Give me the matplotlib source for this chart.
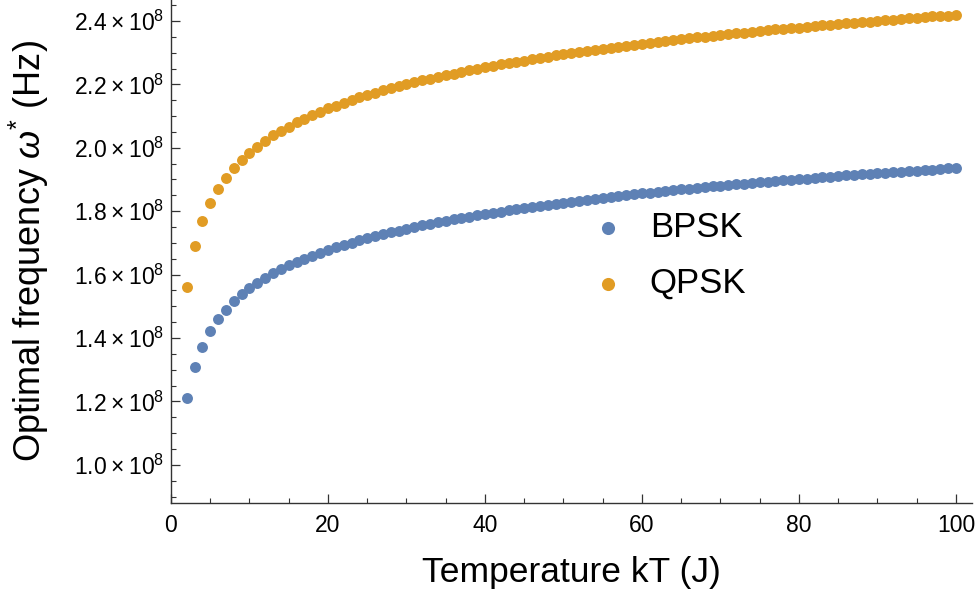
import numpy as np
import matplotlib
matplotlib.use("Agg")
import matplotlib.pyplot as plt
from matplotlib.ticker import MultipleLocator, FuncFormatter

# temperature kT (J)
kT = list(range(2, 101))

# optimal frequency, in units of 1e8 Hz
bpsk = [1.210, 1.310, 1.373, 1.422, 1.460, 1.490, 1.516, 1.538, 1.557, 1.575,
        1.590, 1.604, 1.617, 1.629, 1.640, 1.650, 1.660, 1.669, 1.678, 1.686,
        1.694, 1.701, 1.708, 1.715, 1.722, 1.728, 1.734, 1.739, 1.745, 1.750,
        1.755, 1.761, 1.765, 1.770, 1.775, 1.779, 1.783, 1.787, 1.791, 1.795,
        1.799, 1.803, 1.807, 1.810, 1.814, 1.817, 1.821, 1.824, 1.827, 1.830,
        1.833, 1.836, 1.839, 1.842, 1.845, 1.848, 1.851, 1.853, 1.856, 1.859,
        1.861, 1.864, 1.866, 1.869, 1.871, 1.873, 1.876, 1.878, 1.880, 1.883,
        1.885, 1.887, 1.889, 1.891, 1.893, 1.895, 1.897, 1.899, 1.901, 1.903,
        1.905, 1.907, 1.909, 1.911, 1.913, 1.914, 1.916, 1.918, 1.920, 1.922,
        1.923, 1.925, 1.927, 1.928, 1.930, 1.931, 1.933, 1.935, 1.936]
qpsk = [1.560, 1.689, 1.769, 1.826, 1.871, 1.906, 1.936, 1.962, 1.984, 2.004,
        2.022, 2.039, 2.054, 2.067, 2.080, 2.092, 2.103, 2.114, 2.124, 2.133,
        2.142, 2.150, 2.159, 2.166, 2.174, 2.181, 2.188, 2.194, 2.201, 2.207,
        2.213, 2.218, 2.224, 2.229, 2.234, 2.239, 2.244, 2.249, 2.254, 2.258,
        2.263, 2.267, 2.271, 2.275, 2.279, 2.283, 2.287, 2.291, 2.295, 2.298,
        2.302, 2.305, 2.309, 2.312, 2.315, 2.318, 2.321, 2.325, 2.328, 2.331,
        2.334, 2.336, 2.339, 2.342, 2.345, 2.348, 2.350, 2.353, 2.355, 2.358,
        2.361, 2.363, 2.365, 2.368, 2.370, 2.373, 2.375, 2.377, 2.379, 2.382,
        2.384, 2.386, 2.388, 2.390, 2.392, 2.394, 2.396, 2.398, 2.400, 2.402,
        2.404, 2.406, 2.408, 2.410, 2.412, 2.414, 2.416, 2.417, 2.419]

plt.rcParams['font.family'] = ['Liberation Sans', 'DejaVu Sans']
plt.rcParams['mathtext.fontset'] = 'custom'
plt.rcParams['mathtext.rm'] = 'Liberation Sans'
plt.rcParams['mathtext.it'] = 'Liberation Sans:italic'

blue = '#5E81B5'
orange = '#E19C24'
axcol = '#333333'

fig = plt.figure(figsize=(9.77, 5.98), dpi=100)
ax = fig.add_axes([0.175, 0.1589, 0.8195, 0.8411])

ax.scatter(kT, np.array(bpsk) * 1e8, s=62, color=blue, linewidths=0, label='BPSK')
ax.scatter(kT, np.array(qpsk) * 1e8, s=62, color=orange, linewidths=0, label='QPSK')

ax.set_xlim(0, 102)
ax.set_ylim(0.880e8, 2.466e8)

ax.spines['top'].set_visible(False)
ax.spines['right'].set_visible(False)
for s in ['left', 'bottom']:
    ax.spines[s].set_color(axcol)
    ax.spines[s].set_linewidth(1.0)

ax.xaxis.set_major_locator(MultipleLocator(20))
ax.xaxis.set_minor_locator(MultipleLocator(5))
ax.yaxis.set_major_locator(MultipleLocator(0.2e8))
ax.yaxis.set_minor_locator(MultipleLocator(0.05e8))

def ylab(v, pos):
    return '%.1f\u2009\u00d7\u200910$^{8}$' % (v / 1e8)

ax.yaxis.set_major_formatter(FuncFormatter(ylab))
ax.tick_params(which='both', direction='in', colors=axcol, labelcolor='black',
               labelsize=16.5)
ax.tick_params(which='major', length=6.5, width=0.9)
ax.tick_params(which='minor', length=3.6, width=0.8)
ax.tick_params(axis='x', pad=8)
ax.tick_params(axis='y', pad=5)

ax.set_xlabel('Temperature kT (J)', fontsize=25.5)
ax.set_ylabel('Optimal frequency $ω^{*}$ (Hz)', fontsize=26)
ax.xaxis.set_label_coords(0.5, -0.105)
ax.yaxis.set_label_coords(-0.150, 0.5)

ax.legend(loc='upper left', bbox_to_anchor=(0.533, 0.58), frameon=False,
          fontsize=25, handlelength=0.6, handletextpad=0.9, labelspacing=0.65,
          borderaxespad=0, borderpad=0, markerscale=1.2)

fig.savefig('out.png', dpi=100)
